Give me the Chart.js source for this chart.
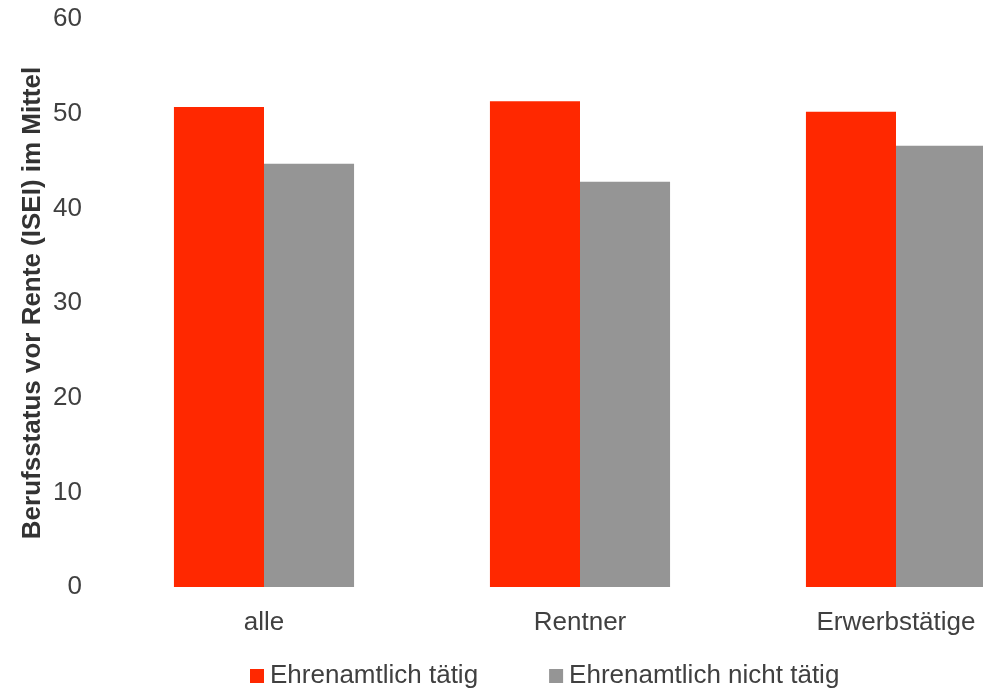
<!DOCTYPE html>
<html>
<head>
<meta charset="utf-8">
<script src="https://cdn.jsdelivr.net/npm/chart.js@4"></script>
<style>
  html, body { margin: 0; padding: 0; overflow: hidden; background: #ffffff; }
  #wrap { position: absolute; left: 0; top: 0; width: 1110px; height: 693px; }
</style>
</head>
<body>
<div id="wrap"><canvas id="c" width="1110" height="693"></canvas></div>
<script>
const categories = ['alle', 'Rentner', 'Erwerbstätige'];
const seriesNames = ['Ehrenamtlich tätig', 'Ehrenamtlich nicht tätig'];
const ehrenamtlichTaetig = [50.7, 51.3, 50.2];
const ehrenamtlichNichtTaetig = [44.7, 42.8, 46.6];
const yTicks = [0, 10, 20, 30, 40, 50, 60];
const yTitle = 'Berufsstatus vor Rente (ISEI) im Mittel';

const FONT = 'Liberation Sans, Arial, Helvetica, sans-serif';
const TEXT = '#404040';

const customLegend = {
  id: 'customLegend',
  afterDraw(chart) {
    const ctx = chart.ctx;
    ctx.save();
    ctx.font = '26px ' + FONT;
    ctx.textBaseline = 'middle';
    ctx.textAlign = 'left';
    let x = chart.chartArea.left + 144;
    const yc = chart.height - 17;
    chart.data.datasets.forEach((ds, i) => {
      ctx.fillStyle = ds.backgroundColor;
      ctx.fillRect(x, yc - 7, 14, 14);
      x += 20;
      ctx.fillStyle = TEXT;
      ctx.fillText(ds.label, x, yc);
      x += ctx.measureText(ds.label).width + 71;
    });
    ctx.restore();
  }
};

new Chart(document.getElementById('c'), {
  type: 'bar',
  data: {
    labels: categories,
    datasets: [
      { label: seriesNames[0], data: ehrenamtlichTaetig, backgroundColor: '#FF2800', categoryPercentage: 0.57, barPercentage: 1.0 },
      { label: seriesNames[1], data: ehrenamtlichNichtTaetig, backgroundColor: '#959595', categoryPercentage: 0.57, barPercentage: 1.0 }
    ]
  },
  options: {
    responsive: false,
    animation: false,
    layout: { padding: { left: 0, right: 56, top: 19, bottom: 56 } },
    plugins: {
      legend: { display: false },
      tooltip: { enabled: false }
    },
    scales: {
      x: {
        grid: { display: false, drawTicks: false },
        border: { display: false },
        ticks: { color: TEXT, font: { family: FONT, size: 26 }, padding: 20, maxRotation: 0 },
        afterFit(s) { s.height = 50; }
      },
      y: {
        min: 0, max: 60,
        afterBuildTicks(s) { s.ticks = yTicks.map(v => ({ value: v })); },
        grid: { display: false, drawTicks: false },
        border: { display: false },
        ticks: { color: TEXT, font: { family: FONT, size: 26 }, padding: 24 },
        title: { display: true, text: yTitle, color: '#333333', font: { family: FONT, size: 26, weight: 'bold' }, padding: { top: 17, bottom: 0 } },
        afterFit(s) { s.width = 106; s.paddingTop = 0; s.paddingBottom = 0; }
      }
    }
  },
  plugins: [customLegend]
});
</script>
</body>
</html>
